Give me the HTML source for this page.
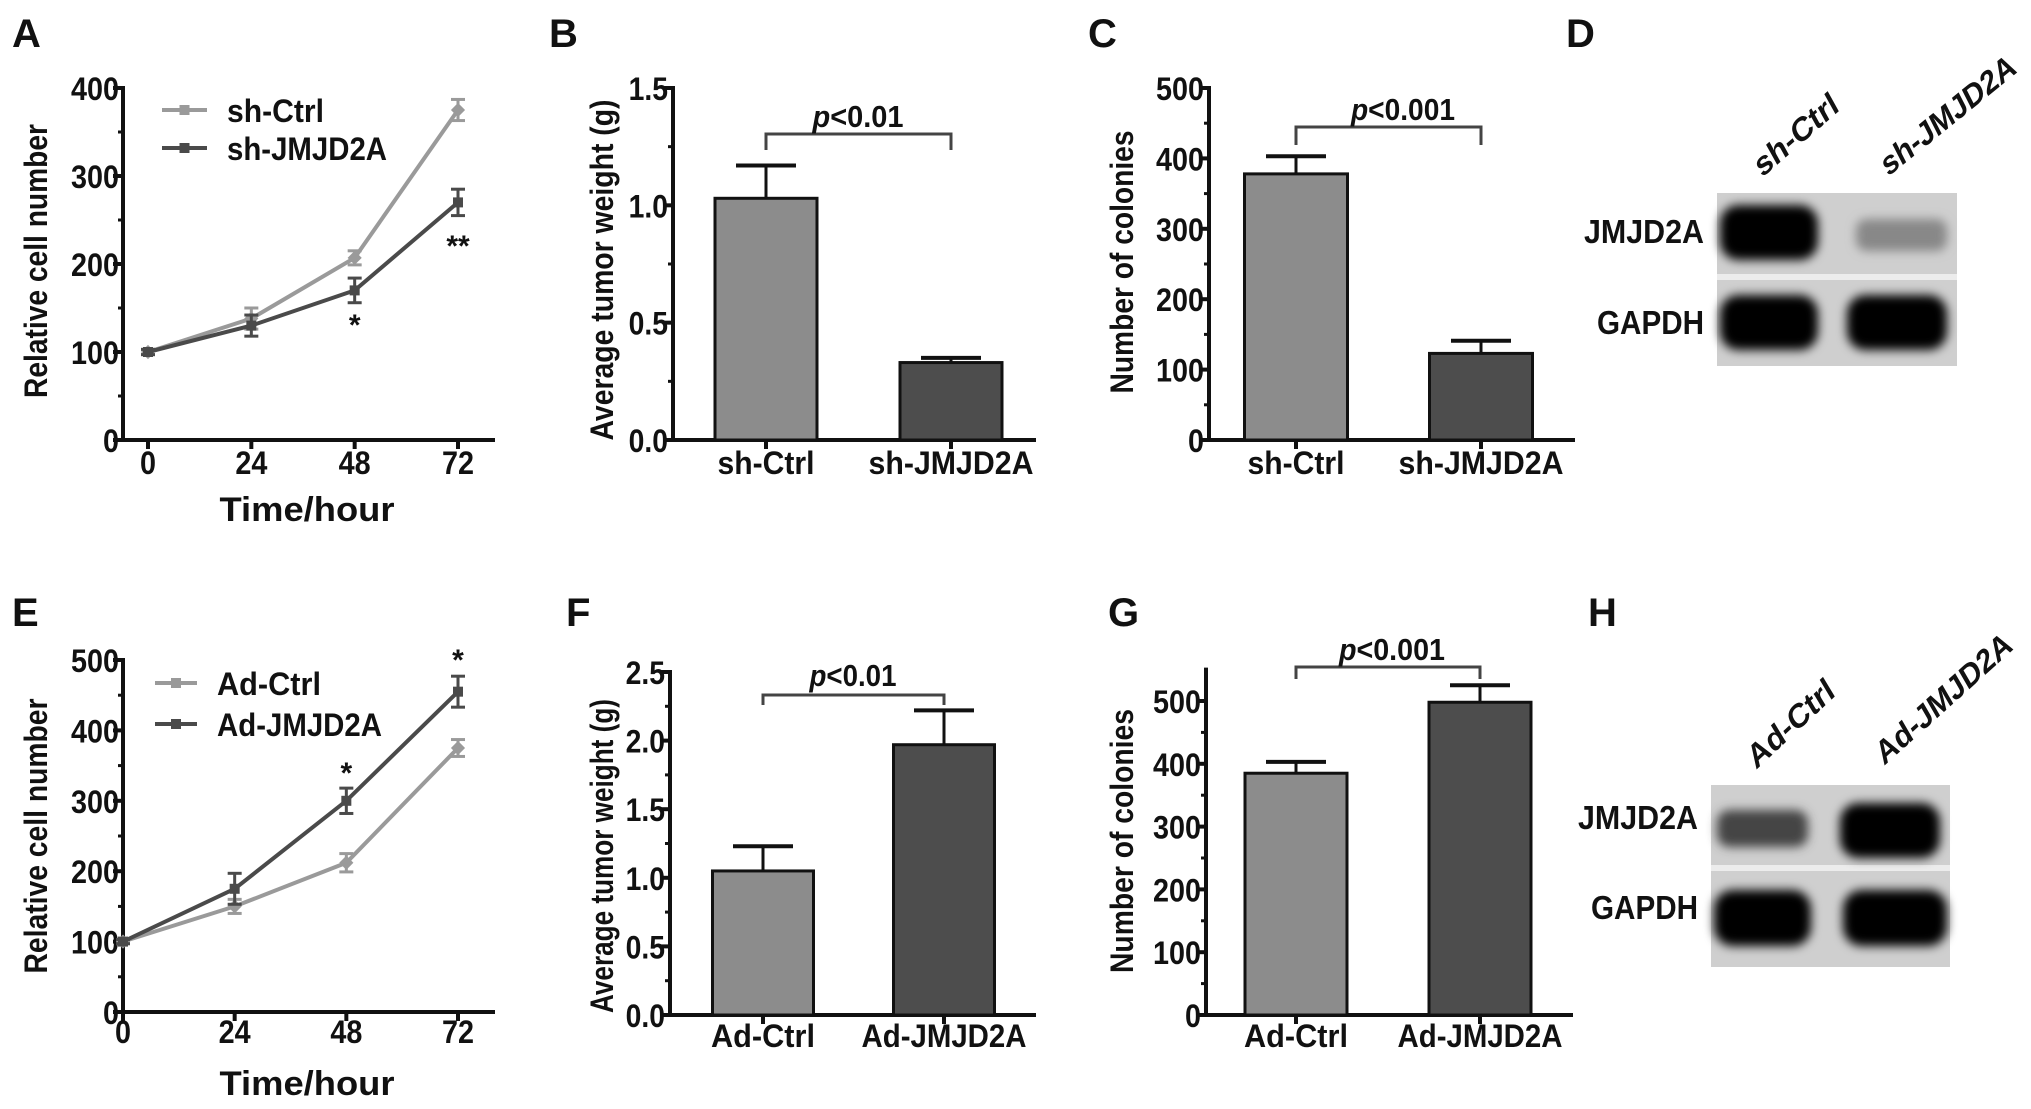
<!DOCTYPE html>
<html><head><meta charset="utf-8"><style>
html,body{margin:0;padding:0;background:#fff;}
svg{display:block;}
text{font-family:"Liberation Sans Narrow","Liberation Sans",sans-serif;font-weight:bold;fill:#111;}
.wide{font-family:"Liberation Sans",sans-serif;}
</style></head><body>
<svg id="fig" width="2031" height="1109" viewBox="0 0 2031 1109" xmlns="http://www.w3.org/2000/svg">
<defs>
<filter id="blur" x="-30%" y="-50%" width="160%" height="200%"><feGaussianBlur stdDeviation="5"/></filter>
</defs>
</svg>
<script>
// ---- data ----
var timeTicks = [0, 24, 48, 72];
var aCtrl = [100, 138, 207, 375];
var aCtrlErr = [3, 12, 8, 12];
var aKd = [100, 130, 170, 270];
var aKdErr = [3, 12, 14, 15];
var aYTicks = [0, 100, 200, 300, 400];
var eCtrl = [100, 150, 212, 375];
var eCtrlErr = [3, 10, 13, 12];
var eOe = [100, 175, 300, 455];
var eOeErr = [3, 22, 18, 22];
var eYTicks = [0, 100, 200, 300, 400, 500];
var bCats = ["sh-Ctrl", "sh-JMJD2A"];
var bVals = [1.03, 0.33];
var bErr = [0.14, 0.02];
var bYTicks = ["0.0", "0.5", "1.0", "1.5"];
var cVals = [378, 123];
var cErr = [25, 18];
var cYTicks = [0, 100, 200, 300, 400, 500];
var fCats = ["Ad-Ctrl", "Ad-JMJD2A"];
var fVals = [1.05, 1.97];
var fErr = [0.18, 0.25];
var fYTicks = ["0.0", "0.5", "1.0", "1.5", "2.0", "2.5"];
var gVals = [385, 498];
var gErr = [18, 27];
var gYTicks = [0, 100, 200, 300, 400, 500];

var svg = document.getElementById('fig');
var NS = 'http://www.w3.org/2000/svg';
function el(tag, attrs, parent) {
  var e = document.createElementNS(NS, tag);
  for (var k in attrs) e.setAttribute(k, attrs[k]);
  (parent || svg).appendChild(e);
  return e;
}
function estW(s, size) {
  var w = 0;
  for (var i = 0; i < s.length; i++) {
    var c = s[i];
    if (/[0-9]/.test(c)) w += 0.5;
    else if (c === '.') w += 0.23;
    else if (c === '-') w += 0.3;
    else if (/[iltrI]/.test(c)) w += 0.3;
    else if (/[MW]/.test(c)) w += 0.78;
    else if (/[A-Z]/.test(c)) w += 0.62;
    else w += 0.5;
  }
  return w * size;
}
function txt(x, y, s, size, anchor, len, parent) {
  var t = el('text', {x: x, y: y, 'font-size': size, 'text-anchor': anchor || 'start'}, parent);
  if (len) { t.setAttribute('textLength', len); t.setAttribute('lengthAdjust', 'spacingAndGlyphs'); }
  t.textContent = s;
  return t;
}
function line(x1, y1, x2, y2, w, c, parent) {
  return el('line', {x1: x1, y1: y1, x2: x2, y2: y2, stroke: c || '#111', 'stroke-width': w || 4}, parent);
}
function panelLetter(x, y, s) {
  var g = el('g', {});
  
  
  var t = txt(x, y, s, 40, 'start', null, g);
  t.setAttribute('class', 'wide');
}
function yAxisTitle(x, cy, s, len, name) {
  var g = el('g', {transform: 'translate(' + x + ',' + cy + ') rotate(-90)'});
  
  
  var t = txt(0, 11, s, 32, 'middle', len, g);
  t.setAttribute('class', 'wide');
}

// ---- line chart ----
function lineChart(o) {
  var g = el('g', {});
  
  
  var ymax = o.yticks[o.yticks.length - 1];
  function ys(v) { return o.y0 - (v / ymax) * (o.y0 - o.yT); }
  function xs(t) { return o.x0 + t / 72 * (o.x72 - o.x0); }
  var ax = el('g', {}, g);
  
  
  line(o.ax, o.y0 + 2, o.ax, o.yT - 2, 4, '#111', ax);
  for (var i = 0; i < o.yticks.length; i++) {
    var v = o.yticks[i];
    line(o.ax - 10, ys(v), o.ax, ys(v), 4, '#111', ax);
    var s = String(v);
    txt(o.ax - 4, ys(v) + 12, s, 32, 'end', estW(s, 32), ax);
    if (i < o.yticks.length - 1) line(o.ax - 5, ys(v + 50), o.ax, ys(v + 50), 3, '#111', ax);
  }
  var xa = el('g', {}, g);
  
  
  line(o.ax - 2, o.y0, o.xend, o.y0, 4, '#111', xa);
  for (var j = 0; j < timeTicks.length; j++) {
    var tx = xs(timeTicks[j]);
    line(tx, o.y0, tx, o.y0 + 9, 4, '#111', xa);
    var ss = String(timeTicks[j]);
    txt(tx, o.tickY, ss, 32, 'middle', estW(ss, 32), xa);
  }
  var xt = txt(307, o.titleY, 'Time/hour', 34, 'middle', 175, g);
  
  
  var series = [
    {vals: o.s1, err: o.e1, color: '#9a9a9a', name: 'series-' + o.n1, marker: 'diamond'},
    {vals: o.s2, err: o.e2, color: '#4a4a4a', name: 'series-' + o.n2, marker: 'square'}
  ];
  series.forEach(function (se) {
    var sg = el('g', {}, g);
    
    
    var pts = se.vals.map(function (v, k) { return xs(timeTicks[k]) + ',' + ys(v); }).join(' ');
    el('polyline', {points: pts, fill: 'none', stroke: se.color, 'stroke-width': 4}, sg);
    se.vals.forEach(function (v, k) {
      var px = xs(timeTicks[k]), py = ys(v);
      var hi = ys(v + se.err[k]), lo = ys(v - se.err[k]);
      line(px, hi, px, lo, 3, se.color, sg);
      line(px - 7, hi, px + 7, hi, 3, se.color, sg);
      line(px - 7, lo, px + 7, lo, 3, se.color, sg);
      var m = el('rect', {x: px - 5, y: py - 5, width: 10, height: 10, fill: se.color}, sg);
      if (se.marker === 'diamond') m.setAttribute('transform', 'rotate(45 ' + px + ' ' + py + ')');
    });
  });
  var lg = el('g', {}, g);
  
  
  [[o.n1, '#9a9a9a', o.legY[0], o.legW[0]], [o.n2, '#4a4a4a', o.legY[1], o.legW[1]]].forEach(function (L) {
    var eg = el('g', {}, lg);
    
    
    line(o.legX[0], L[2], o.legX[1], L[2], 4, L[1], eg);
    el('rect', {x: (o.legX[0] + o.legX[1]) / 2 - 5, y: L[2] - 5, width: 10, height: 10, fill: L[1]}, eg);
    txt(o.legX[2], L[2] + 12, L[0], 32, 'start', L[3], eg);
  });
  o.stars.forEach(function (st) {
    var sgl = txt(xs(st[0]), st[1], st[2], 30, 'middle', null, g);
    
    
  });
}

// ---- bar chart ----
function barChart(o) {
  var g = el('g', {});
  
  
  function ys(v) { return o.y0 - (v / o.ymax) * (o.y0 - o.yT); }
  var ax = el('g', {}, g);
  
  
  line(o.ax, o.y0 + 2, o.ax, ys(o.axTop) - 2, 4, '#111', ax);
  for (var i = 0; i < o.yticks.length; i++) {
    var v = parseFloat(o.yticks[i]);
    line(o.ax - 10, ys(v), o.ax, ys(v), 4, '#111', ax);
    txt(o.ax - 5, ys(v) + 12, String(o.yticks[i]), 32, 'end', estW(String(o.yticks[i]), 32), ax);
  }
  for (var m = o.minor; m < o.axTop; m += o.minor * 2) line(o.ax - 5, ys(m), o.ax, ys(m), 3, '#111', ax);
  var xa = el('g', {}, g);
  
  
  line(o.ax - 2, o.y0, o.xend, o.y0, 4, '#111', xa);
  var fills = ['#8c8c8c', '#4d4d4d'];
  o.vals.forEach(function (v, k) {
    var cx = o.centers[k];
    var bg = el('g', {}, g);
    
    
    var top = ys(v), et = ys(v + o.err[k]);
    line(cx, top, cx, et, 3, '#111', bg);
    line(cx - 30, et, cx + 30, et, 4, '#111', bg);
    el('rect', {x: cx - o.bw / 2, y: top, width: o.bw, height: o.y0 - top, fill: fills[k], stroke: '#111', 'stroke-width': 3}, bg);
    line(cx, o.y0, cx, o.y0 + 9, 4, '#111', xa);
    txt(cx, o.labY, o.cats[k], 32, 'middle', o.labW[k], xa);
  });
  var br = el('g', {}, g);
  
  
  el('polyline', {points: o.centers[0] + ',' + (o.brY + o.brD) + ' ' + o.centers[0] + ',' + o.brY + ' ' + o.centers[1] + ',' + o.brY + ' ' + o.centers[1] + ',' + (o.brY + o.brD), fill: 'none', stroke: '#444', 'stroke-width': 3}, br);
  var pt = el('text', {x: o.pX, y: o.pY, 'font-size': 31, 'text-anchor': 'middle', textLength: o.pW, lengthAdjust: 'spacingAndGlyphs'}, br);
  var ti = el('tspan', {'font-style': 'italic'}, pt); ti.textContent = 'p';
  var tr = el('tspan', {}, pt); tr.textContent = o.pText;
}

// ---- blot ----
function blot(o) {
  var g = el('g', {});
  
  
  el('rect', {x: o.x, y: o.y, width: o.w, height: o.h, fill: '#cfcfcf'}, g);
  el('rect', {x: o.x, y: o.div - 3, width: o.w, height: 6, fill: '#ececec'}, g);
  o.bands.forEach(function (b) {
    var bb = el('rect', {x: b[0], y: b[1], width: b[2], height: b[3], rx: b[3] / 3, fill: b[4], filter: 'url(#blur)'}, g);
    
    
  });
  txt(o.labX, o.labY[0], 'JMJD2A', 33, 'end', 120, g);
  txt(o.labX, o.labY[1], 'GAPDH', 33, 'end', 107, g);
  o.lanes.forEach(function (L) {
    var lg = el('g', {transform: 'translate(' + L[0] + ',' + L[1] + ') rotate(' + L[3] + ') skewX(-12)'}, g);
    
    
    txt(0, 0, L[2], 31, 'start', L[4], lg);
  });
}

panelLetter(12, 47, 'A'); panelLetter(549, 47, 'B'); panelLetter(1088, 47, 'C'); panelLetter(1566, 47, 'D');
panelLetter(12, 626, 'E'); panelLetter(566, 626, 'F'); panelLetter(1108, 626, 'G'); panelLetter(1588, 626, 'H');

yAxisTitle(36, 261, 'Relative cell number', 274, 'y-axis-title-a');
yAxisTitle(602, 270, 'Average tumor weight (g)', 341, 'y-axis-title-b');
yAxisTitle(1122, 262, 'Number of colonies', 263, 'y-axis-title-c');
yAxisTitle(36, 836, 'Relative cell number', 275, 'y-axis-title-e');
yAxisTitle(602, 856, 'Average tumor weight (g)', 314, 'y-axis-title-f');
yAxisTitle(1122, 841, 'Number of colonies', 264, 'y-axis-title-g');

lineChart({name: 'chart-a', ax: 123, y0: 440, yT: 88, yticks: aYTicks, x0: 148, x72: 458, xend: 495, tickY: 474, titleY: 521,
  s1: aCtrl, e1: aCtrlErr, s2: aKd, e2: aKdErr, n1: 'sh-Ctrl', n2: 'sh-JMJD2A',
  legX: [162, 207, 227], legY: [110, 148], legW: [97, 160], stars: [[48, 335, '*'], [72, 256, '**']]});
lineChart({name: 'chart-e', ax: 123, y0: 1012, yT: 660, yticks: eYTicks, x0: 123, x72: 458, xend: 495, tickY: 1043, titleY: 1095,
  s1: eCtrl, e1: eCtrlErr, s2: eOe, e2: eOeErr, n1: 'Ad-Ctrl', n2: 'Ad-JMJD2A',
  legX: [155, 197, 217], legY: [683, 724], legW: [104, 165], stars: [[48, 783, '*'], [72, 670, '*']]});

barChart({name: 'chart-b', ax: 673, y0: 440, yT: 88, ymax: 1.5, axTop: 1.5, yticks: bYTicks, minor: 0.25, xend: 1036,
  cats: bCats, vals: bVals, err: bErr, centers: [766, 951], bw: 102, labY: 474, labW: [97, 165],
  brY: 134, brD: 16, pX: 858, pY: 127, pW: 91, pText: '<0.01'});
barChart({name: 'chart-c', ax: 1209, y0: 440, yT: 88, ymax: 500, axTop: 500, yticks: cYTicks, minor: 50, xend: 1575,
  cats: bCats, vals: cVals, err: cErr, centers: [1296, 1481], bw: 103, labY: 474, labW: [97, 165],
  brY: 127, brD: 18, pX: 1403, pY: 120, pW: 104, pText: '<0.001'});
barChart({name: 'chart-f', ax: 670, y0: 1015, yT: 672, ymax: 2.5, axTop: 2.5, yticks: fYTicks, minor: 0.25, xend: 1036,
  cats: fCats, vals: fVals, err: fErr, centers: [763, 944], bw: 101, labY: 1047, labW: [104, 165],
  brY: 695, brD: 10, pX: 853, pY: 686, pW: 87, pText: '<0.01'});
barChart({name: 'chart-g', ax: 1206, y0: 1015, yT: 701, ymax: 500, axTop: 550, yticks: gYTicks, minor: 50, xend: 1573,
  cats: fCats, vals: gVals, err: gErr, centers: [1296, 1480], bw: 102, labY: 1047, labW: [104, 165],
  brY: 667, brD: 12, pX: 1392, pY: 660, pW: 106, pText: '<0.001'});

blot({name: 'blot-d', x: 1717, y: 193, w: 240, h: 173, div: 277, labX: 1704, labY: [243, 334],
  bands: [[1720, 205, 98, 55, '#000'], [1856, 219, 91, 32, '#888'], [1720, 295, 98, 55, '#000'], [1847, 295, 100, 55, '#000']],
  lanes: [[1762, 178, 'sh-Ctrl', -41, 104], [1888, 177, 'sh-JMJD2A', -39, 167]]});
blot({name: 'blot-h', x: 1711, y: 785, w: 239, h: 182, div: 868, labX: 1698, labY: [829, 919],
  bands: [[1717, 810, 91, 37, '#444'], [1840, 803, 100, 55, '#000'], [1714, 890, 97, 56, '#000'], [1843, 890, 104, 56, '#000']],
  lanes: [[1756, 770, 'Ad-Ctrl', -43, 110], [1884, 766, 'Ad-JMJD2A', -42, 175]]});
</script>
</body></html>
